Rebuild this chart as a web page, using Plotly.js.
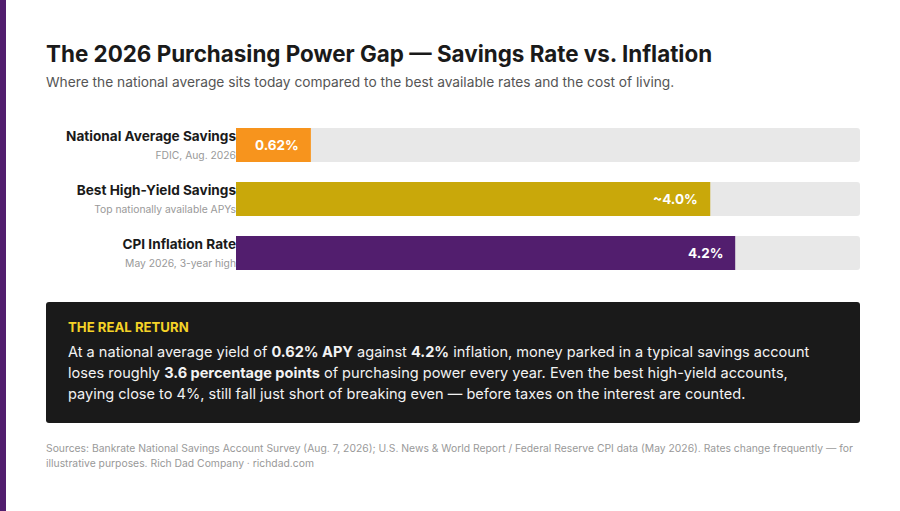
<!DOCTYPE html>
<html><head><meta charset="utf-8">
<script src="https://cdn.plot.ly/plotly-3.0.1.min.js"></script>
<style>html,body{margin:0;padding:0;background:#fff}#c{width:900px;height:511px}</style>
</head><body><div id="c"></div>
<script>
const FONT = 'Inter, "Noto Sans", sans-serif';
const categories = ['National Average Savings', 'Best High-Yield Savings', 'CPI Inflation Rate'];
const notes = ['FDIC, Aug. 2026', 'Top nationally available APYs', 'May 2026, 3-year high'];
const barLengths = [12, 76, 80];
const trackLengths = [100, 100, 100];
const valueLabels = ['0.62%', '~4.0%', '4.2%'];
const barColors = ['#F7941D', '#C9A80A', '#521E6E'];
const bodyLines = [
  'At a national average yield of <b>0.62% APY</b> against <b>4.2%</b> inflation, money parked in a typical savings account',
  'loses roughly <b>3.6 percentage points</b> of purchasing power every year. Even the best high-yield accounts,',
  'paying close to 4%, still fall just short of breaking even — before taxes on the interest are counted.'
];
const footLines = [
  'Sources: Bankrate National Savings Account Survey (Aug. 7, 2026); U.S. News & World Report / Federal Reserve CPI data (May 2026). Rates change frequently — for',
  'illustrative purposes. Rich Dad Company · richdad.com'
];
const L = 236, R = 860, T = 118, B = 280;
const px = x => (x - L) / (R - L), py = y => (B - y) / (B - T);
const txt = (text, x, y, size, color, extra) => Object.assign({
  text, xref: 'paper', yref: 'paper', x: px(x), y: py(y), xanchor: 'left', yanchor: 'middle',
  showarrow: false, align: 'left', borderpad: 0, font: {family: FONT, size, color}
}, extra || {});
const annotations = [
  txt('<b>The 2026 Purchasing Power Gap — Savings Rate vs. Inflation</b>', 44.5, 53.4, 22.4, '#1a1a1a'),
  txt('Where the national average sits today compared to the best available rates and the cost of living.', 45, 82, 13.75, '#555555'),
  txt('<b>THE REAL RETURN</b>', 67, 327, 13.2, '#F5D327'),
  ...bodyLines.map((t, i) => txt(t, 67, 351.7 + 21 * i, 14.55, '#f2f2f2')),
  ...footLines.map((t, i) => txt(t, 45, 448 + 15 * i, 10.35, '#999999')),
  ...valueLabels.map((t, i) => ({
    text: '<b>' + t + '</b>', xref: 'x', yref: 'y', x: barLengths[i], y: categories[i],
    xanchor: 'right', yanchor: 'middle', xshift: -11, showarrow: false, borderpad: 0,
    font: {family: FONT, size: 13.5, color: '#ffffff'}
  }))
];
function rr(x0, y0, x1, y1, r) {
  const X = v => px(v), Y = v => py(v);
  return `M${X(x0 + r)},${Y(y0)} L${X(x1 - r)},${Y(y0)} Q${X(x1)},${Y(y0)} ${X(x1)},${Y(y0 + r)} L${X(x1)},${Y(y1 - r)} Q${X(x1)},${Y(y1)} ${X(x1 - r)},${Y(y1)} L${X(x0 + r)},${Y(y1)} Q${X(x0)},${Y(y1)} ${X(x0)},${Y(y1 - r)} L${X(x0)},${Y(y0 + r)} Q${X(x0)},${Y(y0)} ${X(x0 + r)},${Y(y0)} Z`;
}
const shapes = [
  {type: 'rect', xref: 'paper', yref: 'paper', x0: px(0), x1: px(6), y0: py(0), y1: py(511), fillcolor: '#521E6E', line: {width: 0}, layer: 'below'},
  {type: 'path', xref: 'paper', yref: 'paper', path: rr(46, 302, 860, 423, 3), fillcolor: '#1a1a1a', line: {width: 0}, layer: 'below'}
];
const tickText = categories.map((c, i) => `<b>${c}</b><br><span style="font-size:10.3px;color:#999999;">${notes[i]}</span>`);
const data = [
  {type: 'bar', orientation: 'h', x: trackLengths, y: categories, width: 34 / 54, marker: {color: '#E8E8E8', line: {width: 0}}, hoverinfo: 'skip', showlegend: false},
  {type: 'bar', orientation: 'h', x: barLengths, y: categories, width: 34 / 54, marker: {color: barColors, line: {width: 0}}, hoverinfo: 'skip', showlegend: false}
];
const layout = {
  width: 900, height: 511, margin: {l: L, r: 900 - R, t: T, b: 511 - B, pad: 0},
  paper_bgcolor: '#ffffff', plot_bgcolor: '#ffffff', barmode: 'overlay', barcornerradius: 3,
  showlegend: false, annotations, shapes,
  xaxis: {range: [0, 100], visible: false, fixedrange: true},
  yaxis: {type: 'category', categoryorder: 'array', categoryarray: categories, autorange: 'reversed',
    tickmode: 'array', tickvals: categories, ticktext: tickText, ticks: '', ticklen: 0, showline: false, showgrid: false,
    zeroline: false, automargin: false, fixedrange: true, ticklabelstandoff: -1,
    tickfont: {family: FONT, size: 13.6, color: '#1a1a1a'}}
};
Plotly.newPlot('c', data, layout, {displayModeBar: false, staticPlot: true});
</script></body></html>
